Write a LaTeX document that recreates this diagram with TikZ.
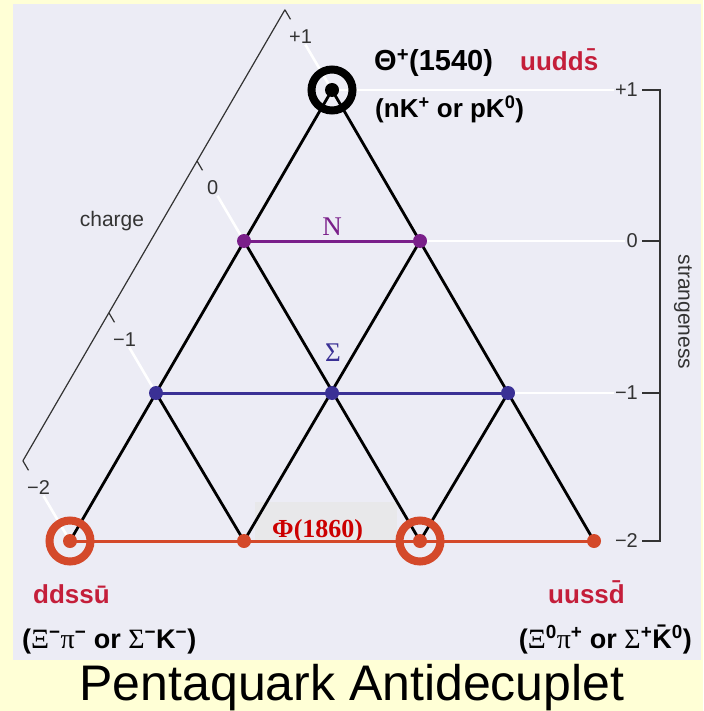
\documentclass[tikz,border=0pt]{standalone}
\usepackage{fontspec}
\setmainfont{Liberation Sans}
\newfontfamily\serifgr{Liberation Serif}
\usetikzlibrary{calc}

\definecolor{pagebg}{HTML}{FFFFD6}
\definecolor{panelbg}{HTML}{ECECF5}
\definecolor{nucol}{HTML}{7A1F8A}
\definecolor{sigcol}{HTML}{3A3095}
\definecolor{xicol}{HTML}{D4492A}
\definecolor{quarkcol}{HTML}{C41E3A}
\definecolor{phicol}{HTML}{CC0000}
\definecolor{axiscol}{HTML}{333333}
\definecolor{phibox}{HTML}{E8E8EA}

\newcommand{\grk}[1]{{\serifgr\mdseries\fontsize{28}{30}\selectfont #1}}

\begin{document}
\begin{tikzpicture}[
  x=1pt, y=-1pt,
  lattice/.style={line width=2.8pt, draw=black},
  multiplet/.style={line width=3pt},
  gridline/.style={line width=2.6pt, draw=white},
  axis/.style={line width=1.2pt, draw=axiscol},
  dot/.style={circle, inner sep=0pt, minimum size=14pt},
  ring/.style={circle, inner sep=0pt, line width=8pt, minimum size=41pt},
  axlabel/.style={font=\fontsize{20}{22}\selectfont, text=axiscol, inner sep=1pt},
  axname/.style={font=\fontsize{21}{24}\selectfont, text=axiscol, inner sep=1pt},
  state/.style={font=\bfseries\fontsize{26}{30}\selectfont, inner sep=0pt},
  quarks/.style={state, text=quarkcol},
  decay/.style={font=\bfseries\fontsize{27}{30}\selectfont, inner sep=0pt},
  greek/.style={font=\serifgr\fontsize{27}{30}\selectfont, inner sep=0pt}
]

  % Background
  \useasboundingbox (0,0) rectangle (703,711);
  \fill[pagebg] (0,0) rectangle (703,711);
  \fill[panelbg] (13,4) rectangle (701,660);

  % Lattice points
  \coordinate (theta) at (332,90);
  \coordinate (nl) at (244,241);
  \coordinate (nr) at (420,241);
  \coordinate (sl) at (156,393);
  \coordinate (sm) at (332,393);
  \coordinate (sr) at (508,393);
  \coordinate (xmm) at (70,541);
  \coordinate (xm) at (244,541);
  \coordinate (xz) at (420,541);
  \coordinate (xp) at (594,541);

  % Phi label box
  \node[fill=phibox, inner sep=0pt, minimum width=142pt, minimum height=39pt,
        anchor=south west] (phibg) at (255,541) {};
  \node[font=\serifgr\bfseries\fontsize{26}{30}\selectfont, text=phicol,
        inner sep=0pt, anchor=base west] (phi) at (272,537) {Φ(1860)};

  % Charge axis
  \foreach \v/\q/\k in {theta/+1/a, nl/0/b, sl/−1/c, xmm/−2/d} {
    \node[axlabel] (cl\k) at ($(\v)+(-31.4,-53.5)$) {\q};
    \draw[gridline] (\v) -- (cl\k);
    \coordinate (ct\k) at ($(\v)+(-47.1,-80.2)$);
    \draw[axis] (ct\k) -- ++(5.6,9.5);
  }
  \draw[axis] (cta) -- (ctd);
  \node[axname] (charge) at (112,221) {charge};

  % Strangeness axis
  \coordinate (sbot) at (660,541);
  \node[axlabel, anchor=east] (sa) at (639,90) {+1};
  \node[axlabel, anchor=east] (sb) at (639,241) {0};
  \node[axlabel, anchor=east] (sc) at (639,393) {−1};
  \node[axlabel, anchor=east] (sd) at (639,541) {−2};
  \draw[gridline] (theta) -- (sa);
  \draw[gridline] (nr) -- (sb);
  \draw[gridline] (sr) -- (sc);
  \draw[axis] ([xshift=3pt]sa.east) -| (sbot) -- ([xshift=3pt]sd.east);
  \draw[axis] ([xshift=3pt]sb.east) -- (sb.east -| sbot);
  \draw[axis] ([xshift=3pt]sc.east) -- (sc.east -| sbot);
  \node[axname, rotate=-90] (strange) at (683,312) {strangeness};

  % Lattice lines
  \draw[lattice] (theta) -- (xmm) (theta) -- (xp) (nr) -- (xm) (nl) -- (xz) (sr) -- (xz) (sl) -- (xm);
  \draw[multiplet, draw=nucol] (nl) -- (nr);
  \draw[multiplet, draw=sigcol] (sl) -- (sr);
  \draw[multiplet, draw=xicol] (xmm) -- (xp);

  % Particles
  \node[ring, draw=black] (thetaring) at (theta) {};
  \node[dot, fill=black] (thetadot) at (theta) {};
  \foreach \p in {nl, nr} \node[dot, fill=nucol] (\p dot) at (\p) {};
  \foreach \p in {sl, sm, sr} \node[dot, fill=sigcol] (\p dot) at (\p) {};
  \node[ring, draw=xicol] (xmmring) at (xmm) {};
  \node[ring, draw=xicol] (xzring) at (xz) {};
  \foreach \p in {xmm, xm, xz, xp} \node[dot, fill=xicol] (\p dot) at (\p) {};

  \node[greek, text=nucol] (nname) at (332,227) {N};
  \node[greek, text=sigcol] (signame) at (333,353) {Σ};

  % Labels
  \node[state, font=\bfseries\fontsize{29}{32}\selectfont, anchor=base west] (thlabel) at (374,71) {Θ\textsuperscript{+}(1540)};
  \node[quarks, anchor=base west] (thq) at (520,71) {uudd\={s}};
  \node[state, anchor=base west] (thdecay) at (375,118) {(nK\textsuperscript{+} or pK\textsuperscript{0})};
  \node[quarks, anchor=base west] (xmmq) at (33,603) {ddss\={u}};
  \node[decay, anchor=base west] (xmmdecay) at (22,648)
    {(\grk{Ξ}\textsuperscript{−}\grk{π}\textsuperscript{−} or \grk{Σ}\textsuperscript{−}K\textsuperscript{−})};
  \node[quarks, anchor=base east] (xpq) at (625,603) {uuss\={d}};
  \node[decay, anchor=base east] (xpdecay) at (692,648)
    {(\grk{Ξ}\textsuperscript{0}\grk{π}\textsuperscript{+} or \grk{Σ}\textsuperscript{+}\={K}\textsuperscript{0})};

  % Title
  \node[font=\fontsize{50}{56}\selectfont] (title) at (352,688) {Pentaquark Antidecuplet};

\end{tikzpicture}
\end{document}
